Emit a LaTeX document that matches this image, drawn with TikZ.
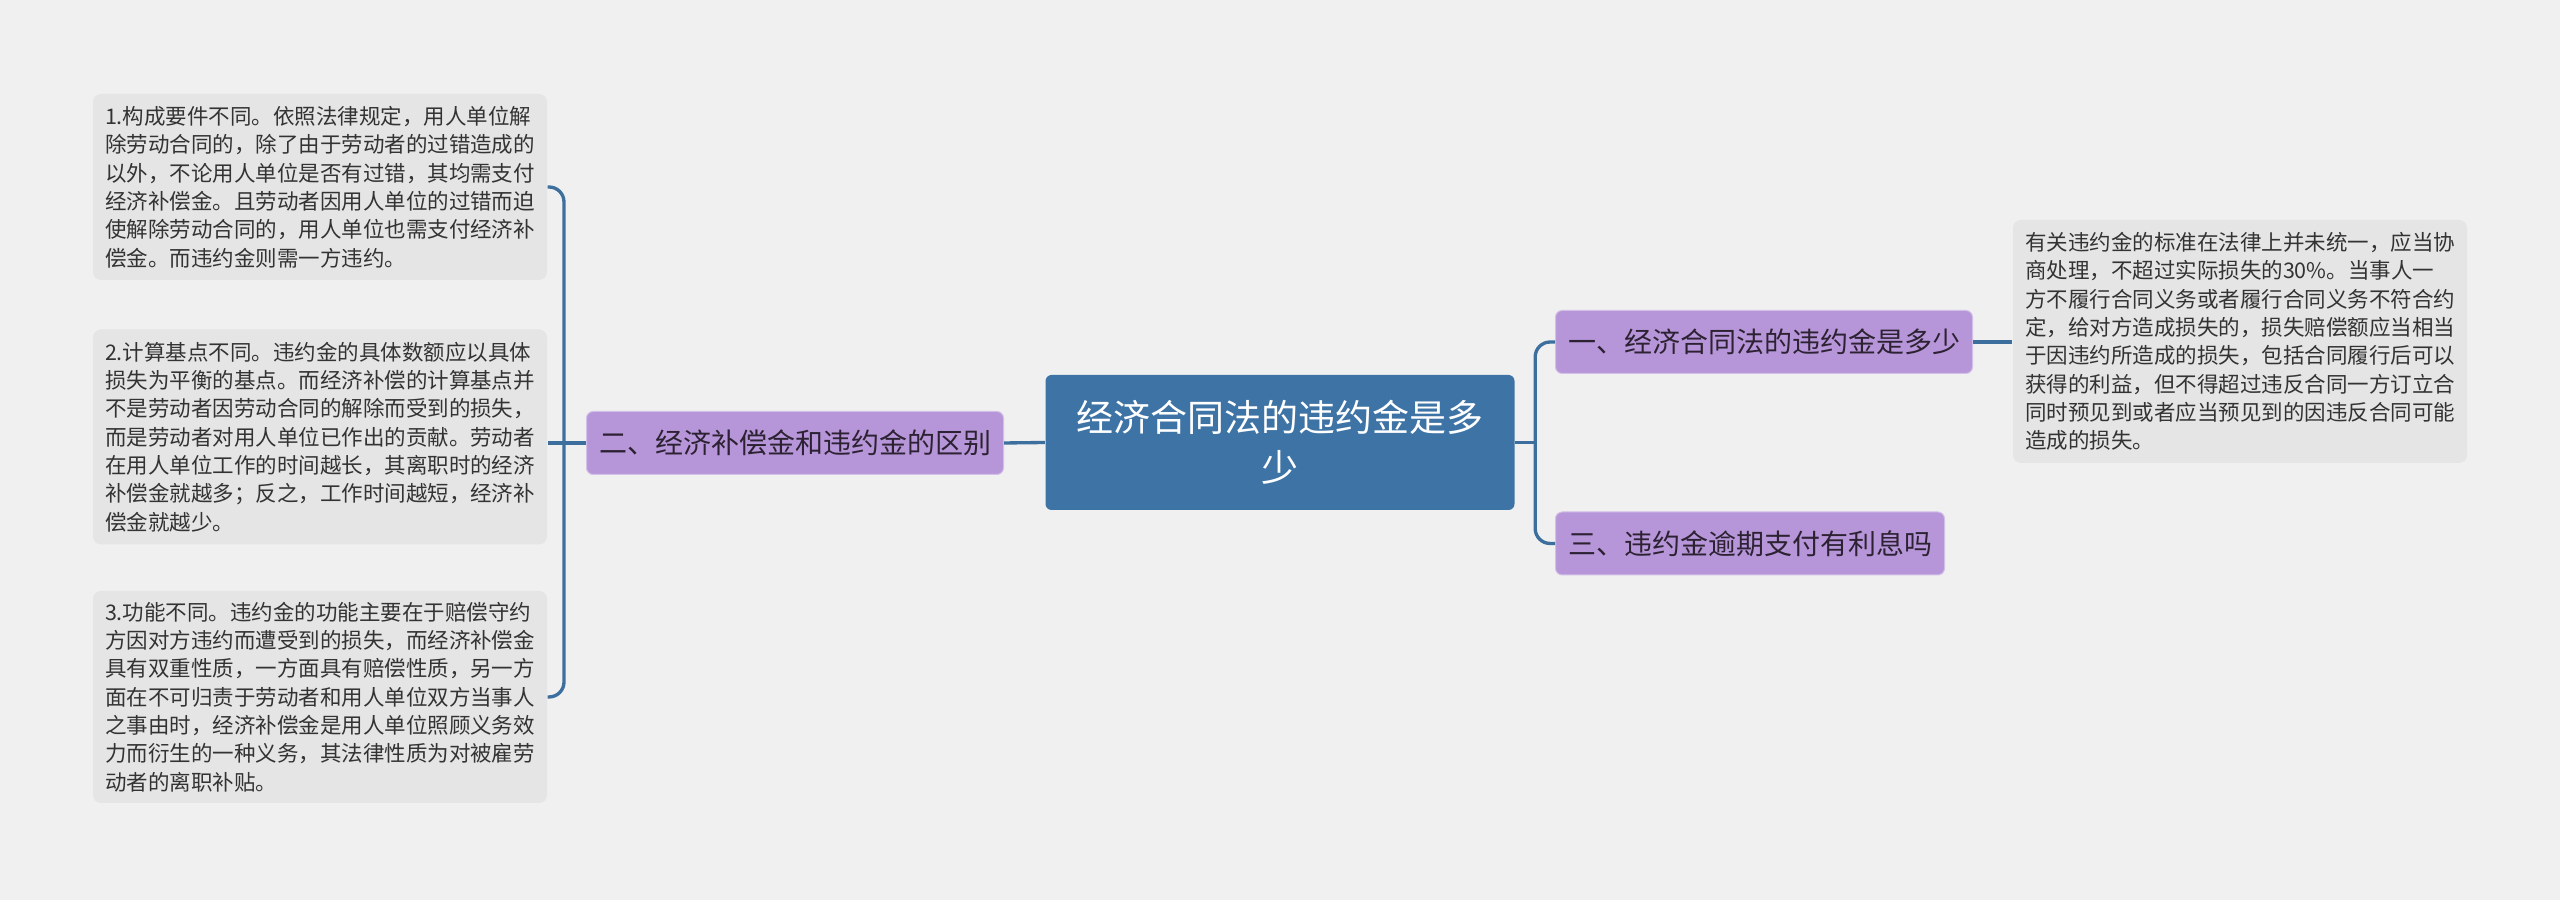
\documentclass[tikz,border=0pt]{standalone}
\usepackage{fontspec}
\setmainfont{Noto Sans CJK SC}
\usepackage{tikz}
\usepackage{xcolor}
\definecolor{rootblue}{RGB}{62,115,165}
\definecolor{linkblue}{RGB}{61,111,158}
\definecolor{branchpurple}{RGB}{182,150,216}
\definecolor{branchtext}{RGB}{45,34,51}
\definecolor{leafgray}{RGB}{229,229,229}
\definecolor{leaftext}{RGB}{51,51,51}
\definecolor{paper}{RGB}{240,240,240}

\begin{document}
\begin{tikzpicture}[x=0.3pt, y=-0.3pt,
    rootbox/.style={fill=rootblue, text=white, rounded corners=1.8pt, align=center,
        minimum width=140.7pt, minimum height=40.5pt, inner sep=0pt,
        font=\fontsize{11.1}{15}\selectfont},
    branchbox/.style={fill=branchpurple, draw=branchpurple!60!white, line width=0.3pt,
        text=branchtext, rounded corners=2pt, minimum height=18.9pt,
        inner xsep=3.75pt, inner ysep=0pt, font=\fontsize{8.4}{10}\selectfont},
    leafbox/.style={fill=leafgray, text=leaftext, rounded corners=2.4pt, text width=129pt,
        align=left, inner xsep=3.6pt, inner ysep=0pt, font=\fontsize{6.45}{8.5}\selectfont},
    link/.style={draw=linkblue, line width=1pt, rounded corners=4.5pt}]

    % Background
    \fill[paper] (0,0) rectangle (2560,900);
    \useasboundingbox (0,0) rectangle (2560,900);

    % Root
    \node[rootbox] (root) at (1280,442.5) {经济合同法的违约金是多\\少};

    % Branches
    \node[branchbox, anchor=west] (brA) at (1555,342) {一、经济合同法的违约金是多少};
    \node[branchbox, anchor=east] (brB) at (1004,443) {二、经济补偿金和违约金的区别};
    \node[branchbox, anchor=west] (brC) at (1555,543.5) {三、违约金逾期支付有利息吗};

    % Leaves
    \node[leafbox, minimum height=72.9pt] (leafR) at (2240,341.5) {有关违约金的标准在法律上并未统一，应当协\\商处理，不超过实际损失的30\%。当事人一\\方不履行合同义务或者履行合同义务不符合约\\定，给对方造成损失的，损失赔偿额应当相当\\于因违约所造成的损失，包括合同履行后可以\\获得的利益，但不得超过违反合同一方订立合\\同时预见到或者应当预见到的因违反合同可能\\造成的损失。};
    \node[leafbox, minimum height=55.8pt] (leafA) at (320,187) {1.构成要件不同。依照法律规定，用人单位解\\除劳动合同的，除了由于劳动者的过错造成的\\以外，不论用人单位是否有过错，其均需支付\\经济补偿金。且劳动者因用人单位的过错而迫\\使解除劳动合同的，用人单位也需支付经济补\\偿金。而违约金则需一方违约。};
    \node[leafbox, minimum height=64.5pt] (leafB) at (320,437) {2.计算基点不同。违约金的具体数额应以具体\\损失为平衡的基点。而经济补偿的计算基点并\\不是劳动者因劳动合同的解除而受到的损失，\\而是劳动者对用人单位已作出的贡献。劳动者\\在用人单位工作的时间越长，其离职时的经济\\补偿金就越多；反之，工作时间越短，经济补\\偿金就越少。};
    \node[leafbox, minimum height=63.6pt] (leafC) at (320,697) {3.功能不同。违约金的功能主要在于赔偿守约\\方因对方违约而遭受到的损失，而经济补偿金\\具有双重性质，一方面具有赔偿性质，另一方\\面在不可归责于劳动者和用人单位双方当事人\\之事由时，经济补偿金是用人单位照顾义务效\\力而衍生的一种义务，其法律性质为对被雇劳\\动者的离职补贴。};

    % Connectors, right side
    \draw[link] (root.east) -- ++(20,0) coordinate (rj);
    \draw[link] (brA.west) -- (rj |- brA.west) -- (rj |- brC.west) -- (brC.west);
    \draw[link] (brA.east) -- (leafR.west |- brA.east);

    % Connectors, left side
    \draw[link] (root.west) -- (brB.east);
    \draw[link] (brB.west) -- ++(-22,0) coordinate (lj) -- (leafB.east |- brB.west);
    \draw[link] (leafA.east) -- (lj |- leafA.east) -- (lj |- leafC.east) -- (leafC.east);

\end{tikzpicture}
\end{document}
